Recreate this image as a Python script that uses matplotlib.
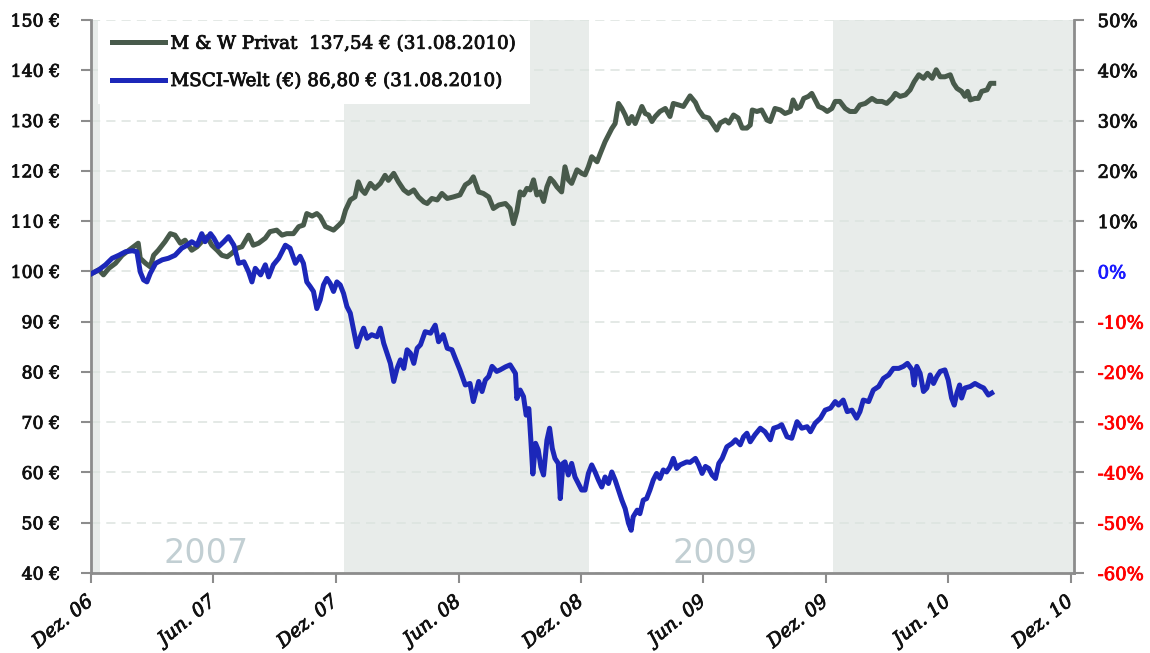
import matplotlib
matplotlib.use("Agg")
import matplotlib.pyplot as plt
import matplotlib.patheffects as pe

# ---------------- data (x = days since 01.01.2007) ----------------
mw_day = [-12, -2, 5, 13, 23, 33, 43, 53, 57, 60, 68, 75, 80, 87, 97, 105, 112, 120, 127, 137,
          145, 152, 160, 167, 175, 182, 190, 197, 205, 212, 222, 229, 237, 247, 254, 264, 272, 279,
          289, 297, 304, 309, 317, 324, 329, 337, 344, 349, 357, 362, 367, 374, 381, 386, 391, 396,
          404, 411, 419, 426, 431, 439, 446, 454, 461, 469, 476, 484, 489, 496, 504, 511, 519, 528,
          538, 546, 553, 558, 566, 573, 581, 588, 596, 606, 613, 618, 623, 628, 633, 638, 643, 648,
          653, 658, 663, 668, 673, 678, 683, 690, 695, 700, 705, 713, 720, 725, 730, 735, 743, 748,
          755, 760, 765, 770, 775, 780, 785, 790, 795, 800, 805, 810, 815, 820, 825, 830, 837, 845,
          852, 857, 865, 872, 882, 890, 895, 902, 910, 917, 922, 927, 935, 940, 947, 954, 960, 967,
          972, 975, 982, 989, 997, 1002, 1009, 1017, 1024, 1032, 1036, 1042, 1047, 1052, 1059, 1064,
          1069, 1074, 1081, 1087, 1094, 1099, 1106, 1114, 1121, 1129, 1136, 1144, 1154, 1161, 1169,
          1176, 1184, 1189, 1196, 1204, 1211, 1217, 1224, 1231, 1237, 1244, 1250, 1256, 1263, 1271,
          1276, 1281, 1288, 1293, 1297, 1301, 1308, 1313, 1318, 1326, 1331, 1336]
mw_val = [99.6, 100.3, 99.3, 100.6, 101.6, 103.2, 104.2, 105.2, 105.6, 102.6, 101.6, 100.9, 103.2,
          104.2, 105.9, 107.5, 107.2, 105.6, 106.2, 104.2, 104.9, 105.9, 106.9, 105.2, 104.2, 103.2,
          102.9, 103.6, 104.6, 104.9, 107.2, 105.2, 105.6, 106.6, 107.9, 108.2, 107.2, 107.5, 107.5,
          108.9, 109.2, 111.5, 111.0, 111.5, 110.9, 108.9, 108.5, 108.2, 109.2, 109.9, 112.2, 114.2,
          114.8, 117.8, 116.2, 115.5, 117.5, 116.5, 117.5, 119.1, 118.1, 119.5, 117.8, 116.2, 115.5,
          116.2, 114.8, 113.8, 113.5, 114.5, 114.2, 115.5, 114.5, 114.8, 115.2, 117.2, 117.8, 118.8,
          115.8, 115.5, 114.8, 112.5, 113.2, 113.5, 112.5, 109.5, 111.9, 115.8, 115.2, 116.5, 116.2,
          118.2, 115.2, 115.8, 113.9, 116.8, 118.5, 117.8, 116.8, 115.8, 120.8, 118.2, 117.5, 120.2,
          119.5, 119.2, 120.8, 122.8, 121.8, 123.5, 125.8, 127.1, 128.4, 129.4, 133.4, 132.4, 131.1,
          129.4, 130.8, 129.4, 131.1, 132.8, 131.4, 131.1, 129.8, 130.8, 131.8, 132.4, 130.8, 133.4,
          133.1, 132.8, 134.9, 133.6, 132.1, 130.8, 130.5, 129.1, 128.1, 129.5, 130.1, 129.5, 131.1,
          130.5, 128.5, 128.5, 129.1, 132.1, 131.8, 132.1, 130.1, 129.8, 132.4, 132.1, 131.4, 131.8,
          134.1, 132.4, 132.8, 134.4, 134.8, 135.4, 134.1, 132.8, 132.4, 131.8, 132.4, 133.8, 133.8,
          132.4, 131.8, 131.8, 133.1, 133.4, 134.4, 133.8, 133.8, 133.4, 134.4, 135.4, 134.8, 135.1,
          136.1, 137.7, 139.1, 138.4, 139.4, 138.4, 140.1, 138.7, 138.7, 139.1, 137.4, 136.4, 135.8,
          134.8, 135.8, 134.1, 134.4, 134.4, 135.8, 136.1, 137.4, 137.4]

msci_day = [-12, -2, 8, 18, 28, 38, 48, 55, 60, 65, 70, 75, 83, 93, 102, 112, 122, 130, 137, 145,
            152, 157, 165, 170, 177, 185, 192, 200, 207, 215, 222, 227, 232, 240, 247, 252, 259, 267,
            277, 284, 292, 299, 304, 309, 314, 319, 324, 329, 334, 339, 344, 349, 354, 359, 364, 369,
            374, 379, 384, 389, 394, 399, 406, 414, 419, 424, 429, 434, 439, 444, 449, 454, 459, 464,
            469, 474, 479, 486, 494, 501, 506, 513, 519, 526, 531, 538, 546, 553, 558, 566, 571, 576,
            581, 586, 593, 598, 606, 613, 621, 623, 628, 633, 637, 641, 644, 647, 651, 655, 659, 663,
            668, 672, 676, 680, 685, 688, 692, 695, 700, 705, 710, 715, 720, 725, 730, 735, 740, 745,
            750, 755, 760, 765, 770, 775, 780, 785, 790, 794, 797, 803, 807, 812, 817, 822, 827, 832,
            837, 842, 847, 852, 857, 862, 867, 872, 877, 882, 890, 895, 900, 905, 910, 915, 920, 925,
            930, 937, 945, 950, 957, 962, 967, 972, 979, 987, 994, 1002, 1007, 1014, 1019, 1027, 1034,
            1042, 1049, 1057, 1062, 1069, 1077, 1084, 1092, 1099, 1104, 1111, 1117, 1124, 1131, 1136,
            1141, 1149, 1156, 1164, 1171, 1179, 1186, 1194, 1201, 1207, 1214, 1217, 1221, 1226, 1231,
            1236, 1241, 1246, 1251, 1256, 1263, 1268, 1273, 1277, 1281, 1285, 1288, 1293, 1301, 1308,
            1316, 1321, 1328, 1333]
msci_val = [99.6, 100.3, 101.3, 102.6, 103.2, 103.9, 104.1, 103.9, 99.9, 98.3, 97.9, 99.6, 101.6,
            102.3, 102.6, 103.2, 104.6, 105.2, 105.9, 105.2, 107.5, 105.9, 107.5, 106.6, 104.9, 105.9,
            106.9, 105.2, 101.6, 101.9, 99.9, 97.9, 100.6, 99.3, 101.3, 98.9, 101.3, 102.6, 105.2,
            104.6, 101.6, 103.0, 101.6, 97.9, 97.0, 96.0, 92.6, 94.3, 97.3, 98.6, 97.6, 96.0, 97.9,
            97.3, 95.6, 93.0, 91.7, 88.3, 85.0, 87.0, 88.7, 86.7, 87.4, 87.0, 88.7, 85.7, 83.7, 81.7,
            78.1, 80.7, 82.4, 80.7, 84.4, 83.7, 81.7, 84.7, 85.4, 88.0, 87.7, 89.3, 86.0, 87.4, 84.7,
            84.4, 82.7, 80.4, 77.4, 77.7, 74.1, 78.1, 76.1, 78.4, 79.1, 81.1, 80.1, 80.4, 81.0, 81.4,
            79.7, 74.7, 76.4, 75.1, 71.4, 72.7, 66.4, 59.7, 65.8, 64.5, 61.1, 59.5, 66.4, 68.8, 64.8,
            62.8, 61.8, 54.8, 61.8, 62.1, 59.5, 61.8, 59.1, 57.8, 56.5, 56.5, 59.8, 61.5, 60.1, 58.5,
            57.1, 59.1, 57.8, 60.1, 58.5, 56.5, 54.5, 52.8, 49.9, 48.5, 51.2, 52.5, 51.8, 54.5, 54.8,
            56.5, 58.5, 59.8, 58.8, 60.5, 60.1, 61.1, 62.8, 60.8, 61.5, 61.8, 62.1, 62.0, 62.8, 61.5,
            59.8, 61.2, 60.8, 59.5, 58.8, 61.8, 62.8, 65.1, 65.8, 66.5, 65.5, 67.1, 67.8, 66.1, 67.5,
            68.8, 68.1, 66.5, 68.8, 69.1, 69.5, 67.1, 66.8, 70.1, 68.8, 69.1, 68.1, 69.8, 70.8, 72.4,
            72.8, 74.1, 73.4, 74.4, 72.1, 72.4, 70.8, 72.1, 74.4, 74.1, 76.4, 77.1, 78.7, 79.4, 80.7,
            80.7, 81.1, 81.7, 80.4, 77.4, 81.1, 79.7, 76.1, 76.8, 79.4, 77.7, 79.1, 80.1, 80.4, 78.4,
            74.8, 73.4, 75.8, 77.4, 74.8, 76.8, 77.1, 77.7, 77.1, 76.8, 75.4, 75.8]

series_labels = ["M & W Privat  137,54 € (31.08.2010)", "MSCI-Welt (€) 86,80 € (31.08.2010)"]
x_tick_labels = ["Dez. 06", "Jun. 07", "Dez. 07", "Jun. 08", "Dez. 08",
                 "Jun. 09", "Dez. 09", "Jun. 10", "Dez. 10"]
x_tick_days = [-14, 169, 352, 536, 719, 902, 1085, 1268, 1451]
left_ticks = [40, 50, 60, 70, 80, 90, 100, 110, 120, 130, 140, 150]
right_ticks = [-60, -50, -40, -30, -20, -10, 0, 10, 20, 30, 40, 50]
shaded_years = [(-14, 0), (365, 731), (1096, 1460)]   # 2006 (end), 2008, 2010
year_labels = [("2007", 159), ("2009", 919)]

# ---------------- style ----------------
C_MW = "#485a4b"
C_MSCI = "#1c27b9"
C_SHADE = "#e8ecea"
C_GRID = "#dce3df"
C_SPINE = "#8c8c8c"
SERIF = ["DejaVu Serif"]

def heavy(color):
    return [pe.withStroke(linewidth=0.6, foreground=color)]

fig = plt.figure(figsize=(11.5, 6.53), dpi=100)
ax = fig.add_axes([0.0789, 0.1225, 0.9339 - 0.0789, 0.9694 - 0.1225])

for a, b in shaded_years:
    ax.axvspan(a, b, color=C_SHADE, lw=0, zorder=0)

for v in left_ticks:
    ax.axhline(v, color=C_GRID, lw=1.1, ls=(0, (6, 4)), zorder=0.5)

ax.plot(mw_day, mw_val, color=C_MW, lw=3.6, solid_joinstyle="round", zorder=3, label=series_labels[0])
ax.plot(msci_day, msci_val, color=C_MSCI, lw=3.6, solid_joinstyle="round", zorder=3, label=series_labels[1])

for txt, d in year_labels:
    ax.text(d, 43.8, txt, ha="center", va="center", fontsize=24, color="#c2cfd3",
            family="DejaVu Sans", zorder=1)

ax.set_xlim(-14, 1456)
ax.set_ylim(40, 150)
ax.set_yticks(left_ticks)
ax.set_yticklabels([f"{v} €" for v in left_ticks], family=SERIF, fontsize=12.5, color="#111111")
ax.set_xticks(x_tick_days)
ax.set_xticklabels(x_tick_labels, family=SERIF, style="italic", fontsize=13.5, color="#111111",
                   rotation=39, ha="right", rotation_mode="anchor", va="center")
ax.tick_params(axis="x", length=7, width=1.5, color=C_SPINE, pad=12)
ax.tick_params(axis="y", length=7, width=1.5, color=C_SPINE, pad=15)
for lab in ax.get_xticklabels() + ax.get_yticklabels():
    lab.set_path_effects(heavy("#111111"))
for s in ["top", "right"]:
    ax.spines[s].set_visible(False)
for s in ["left", "bottom"]:
    ax.spines[s].set_color(C_SPINE)
    ax.spines[s].set_linewidth(2)

ax2 = ax.twinx()
ax2.set_ylim(-60, 50)
ax2.set_yticks(right_ticks)
ax2.set_yticklabels([f"{v}%" for v in right_ticks], family=SERIF, fontsize=13)
for lab, v in zip(ax2.get_yticklabels(), right_ticks):
    col = "#111111" if v > 0 else ("#1a1aff" if v == 0 else "#ff0000")
    lab.set_color(col)
    lab.set_path_effects(heavy(col))
ax2.tick_params(axis="y", length=7, width=1.5, color=C_SPINE, pad=10)
for s in ["top", "left", "bottom"]:
    ax2.spines[s].set_visible(False)
ax2.spines["right"].set_color(C_SPINE)
ax2.spines["right"].set_linewidth(2)

leg = ax.legend(loc="upper left", bbox_to_anchor=(98 / 1150, 1 - 21 / 653),
                bbox_transform=fig.transFigure, borderaxespad=0,
                prop={"family": SERIF, "size": 13.2}, handlelength=2.9, handletextpad=0.3,
                labelspacing=1.05, borderpad=0.75, fancybox=False, framealpha=1,
                facecolor="white", edgecolor="none")
leg.set_zorder(10)
for line in leg.get_lines():
    line.set_linewidth(3.6)
for t in leg.get_texts():
    t.set_color("#111111")
    t.set_path_effects(heavy("#111111"))

fig.savefig("out.png", dpi=100)
